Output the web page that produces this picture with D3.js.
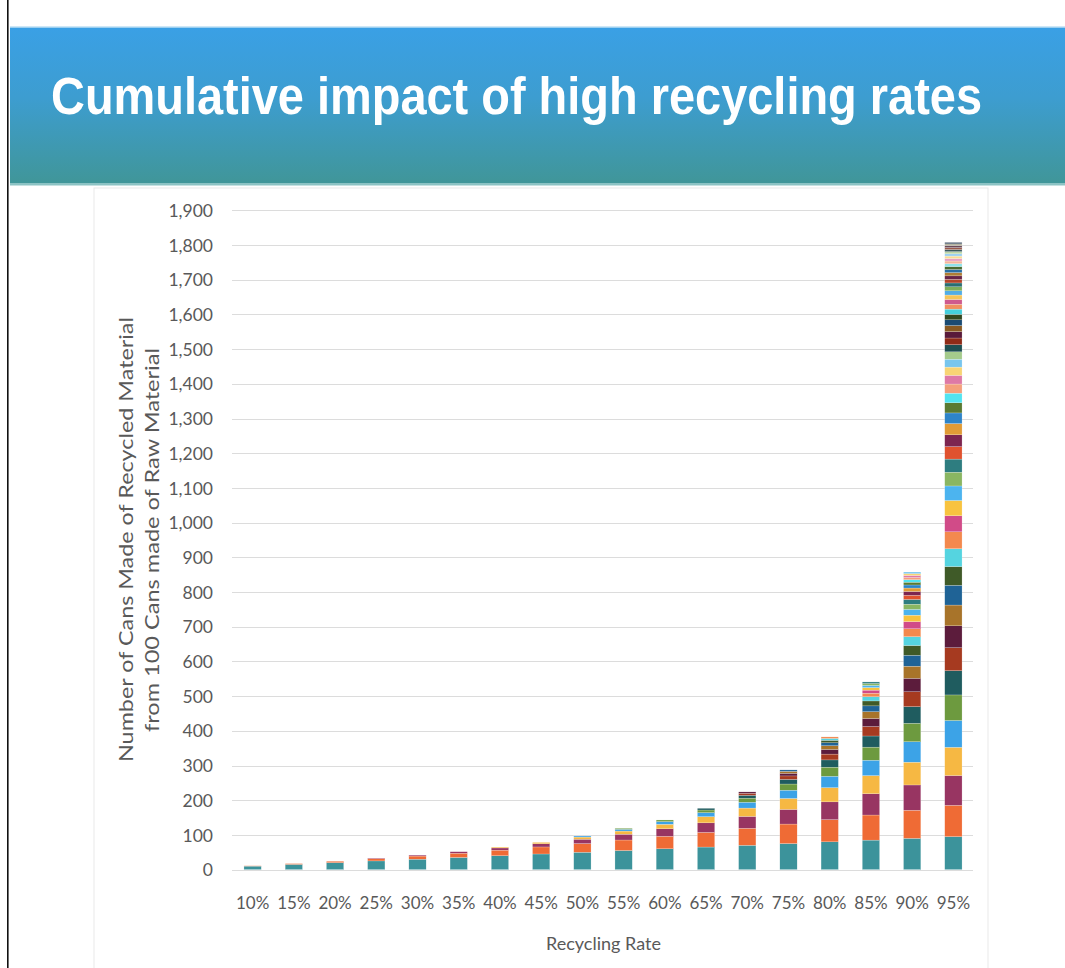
<!DOCTYPE html>
<html><head><meta charset="utf-8">
<script src="https://cdn.jsdelivr.net/npm/d3@7"></script>
<style>html,body{margin:0;padding:0;background:#fff;overflow:hidden}svg{display:block}</style>
</head><body>
<svg id="c" width="1065" height="968"></svg>
<script>
// ---------- data (cans made from recycled material, per generation) ----------
const categories = ["10%","15%","20%","25%","30%","35%","40%","45%","50%","55%","60%","65%","70%","75%","80%","85%","90%","95%"];
const g10 = [10, 1];
const g15 = [15, 2.25];
const g20 = [20, 4];
const g25 = [25, 6.25, 1.56];
const g30 = [30, 9, 2.7];
const g35 = [35, 12.25, 4.29];
const g40 = [40, 16, 6.4, 2.56];
const g45 = [45, 20.25, 9.11, 4.1];
const g50 = [50, 25, 12.5, 6.25, 3.13];
const g55 = [55, 30.25, 16.64, 9.15, 5.03, 2.77];
const g60 = [60, 36, 21.6, 12.96, 7.78, 4.67];
const g65 = [65, 42.25, 27.46, 17.85, 11.6, 7.54, 4.9];
const g70 = [70, 49, 34.3, 24.01, 16.81, 11.76, 8.24, 5.76, 4.04];
const g75 = [75, 56.25, 42.19, 31.64, 23.73, 17.8, 13.35, 10.01, 7.51, 5.63, 4.22];
const g80 = [80, 64, 51.2, 40.96, 32.77, 26.21, 20.97, 16.78, 13.42, 10.74, 8.59, 6.87, 5.5, 4.4];
const g85 = [85, 72.25, 61.41, 52.2, 44.37, 37.71, 32.06, 27.25, 23.16, 19.69, 16.73, 14.22, 12.09, 10.28, 8.74, 7.43, 6.31, 5.37, 4.56];
const g90 = [90, 81, 72.9, 65.61, 59.05, 53.14, 47.83, 43.05, 38.74, 34.87, 31.38, 28.24, 25.42, 22.88, 20.59, 18.53, 16.68, 15.01, 13.51, 12.16, 10.94, 9.85, 8.86, 7.98, 7.18, 6.46, 5.81, 5.23, 4.71];
const g95 = [95, 90.25, 85.74, 81.45, 77.38, 73.51, 69.83, 66.34, 63.02, 59.87, 56.88, 54.04, 51.33, 48.77, 46.33, 44.01, 41.81, 39.72, 37.74, 35.85, 34.06, 32.35, 30.74, 29.2, 27.74, 26.35, 25.03, 23.78, 22.59, 21.46, 20.39, 19.37, 18.4, 17.48, 16.61, 15.78, 14.99, 14.24, 13.53, 12.85, 12.21, 11.6, 11.02, 10.47, 9.94, 9.45, 8.97, 8.53, 8.1, 7.69, 7.31, 6.94, 6.6, 6.27, 5.95, 5.66, 5.37, 5.1, 4.85];
const generationsByRate = [g10,g15,g20,g25,g30,g35,g40,g45,g50,g55,g60,g65,g70,g75,g80,g85,g90,g95];
const yTicks = [0,100,200,300,400,500,600,700,800,900,1000,1100,1200,1300,1400,1500,1600,1700,1800,1900];
const titleText = "Cumulative impact of high recycling rates";
const yTitleLines = ["Number of Cans Made of Recycled Material", "from 100 Cans made of Raw Material"];
const xTitleText = "Recycling Rate";

// ---------- styles ----------
const palette = [
"#3c939b","#ef6b35","#983562","#f6b843","#3ca3e7","#6d9a3f",
"#1f5c5f","#a63a20","#5c1c3c","#a8742a","#1f6396","#3f5a28",
"#55d4e0","#f3894e","#d14b88","#f8c33f","#4cb4ef","#8ab662",
"#2e7d80","#e0522e","#7d2550","#e19b36","#2e84c8","#5a7a32",
"#52e4f0","#f4a07c","#de79a6","#f8d474","#78c6ee","#a5cb8c",
"#1e4f52","#8f2b17","#591a3a","#8a5a22","#1b4b73","#34461f",
"#45cfdc","#f09060","#cf5a8e","#f5c55a","#52ade6","#7fae5a",
"#2a6e72","#b5452a","#6a2447","#b07d35","#2a6fa5","#4a6b30",
"#8ee3ea","#f5b79a","#e8a0c2","#f9dc93","#9dd2f2","#bbd6a5",
"#3b5c5e","#9a5a4a","#6b4a5a","#a9a690","#5a6a7a","#8a9a7a"
];
const textGray = "#595959";
const axisFont = "Lato, 'Open Sans', sans-serif";

const svg = d3.select("#c");
const defs = svg.append("defs");
const grad = defs.append("linearGradient").attr("id","hdr").attr("x1",0).attr("y1",0).attr("x2",0).attr("y2",1);
grad.append("stop").attr("offset","0%").attr("stop-color","#3aa0e5");
grad.append("stop").attr("offset","45%").attr("stop-color","#3d9dd0");
grad.append("stop").attr("offset","100%").attr("stop-color","#409699");

// page frame
svg.append("rect").attr("x",0).attr("y",0).attr("width",1065).attr("height",968).attr("fill","#fff");
svg.append("rect").attr("x",94).attr("y",188).attr("width",894).attr("height",800)
  .attr("fill","#fff").attr("stroke","#e9e9e9").attr("stroke-width",1);

// header band
svg.append("rect").attr("x",10).attr("y",26.5).attr("width",1055).attr("height",2).attr("fill","#9ccff0");
svg.append("rect").attr("x",10).attr("y",28).attr("width",1055).attr("height",155).attr("fill","url(#hdr)");
svg.append("rect").attr("x",10).attr("y",183).attr("width",1055).attr("height",2.5).attr("fill","#8cc3c4");
svg.append("text").attr("x",51).attr("y",114).text(titleText)
  .attr("font-family","'Liberation Sans', Arial, sans-serif").attr("font-weight","bold")
  .attr("font-size",51).attr("fill","#fff")
  .attr("textLength",931).attr("lengthAdjust","spacingAndGlyphs");

// left black line
svg.append("rect").attr("x",7).attr("y",0).attr("width",1.6).attr("height",968).attr("fill","#111");

// ---------- scales ----------
const x = d3.scaleBand().domain(categories).range([232, 974]).paddingInner(0.58).paddingOuter(0.29);
const y = d3.scaleLinear().domain([0,1900]).range([869.6, 210.3]);

// gridlines
svg.append("g").selectAll("line").data(yTicks).join("line")
  .attr("x1",232).attr("x2",973)
  .attr("y1",d=>Math.round(y(d))+0.5).attr("y2",d=>Math.round(y(d))+0.5)
  .attr("stroke","#dcdcdc").attr("stroke-width",1);

// y axis (labels only)
const yAxis = d3.axisLeft(y).tickValues(yTicks).tickFormat(d3.format(",")).tickSize(0).tickPadding(0);
const gy = svg.append("g").attr("transform","translate(213,0)").call(yAxis);
gy.select(".domain").remove();
gy.selectAll("text").attr("font-family",axisFont).attr("font-size",17.5).attr("fill",textGray).attr("dy","0.35em");

// x axis (labels only)
const xAxis = d3.axisBottom(x).tickSize(0).tickPadding(0);
const gx = svg.append("g").attr("transform","translate(0,909)").call(xAxis);
gx.select(".domain").remove();
gx.selectAll("text").attr("font-family",axisFont).attr("font-size",17).attr("fill",textGray).attr("dy",0);

// ---------- stacked bars ----------
const maxGen = d3.max(generationsByRate, a => a.length);
const keys = d3.range(maxGen);
const table = categories.map((c,i) => {
  const row = {cat:c};
  keys.forEach(k => row[k] = generationsByRate[i][k] || 0);
  return row;
});
const stacked = d3.stack().keys(keys)(table);
const layers = svg.append("g").selectAll("g").data(stacked).join("g")
  .attr("fill", d => palette[d.key % palette.length]);
layers.selectAll("rect").data(d => d.filter(p => p[1] - p[0] > 0)).join("rect")
  .attr("x", p => x(p.data.cat))
  .attr("width", x.bandwidth())
  .attr("y", p => y(p[1]))
  .attr("height", p => y(p[0]) - y(p[1]))
  .attr("stroke","#ffffff").attr("stroke-width",0.35).attr("stroke-opacity",0.6);

// ---------- axis titles ----------
svg.append("text").attr("x",603.5).attr("y",950).attr("text-anchor","middle")
  .attr("font-family",axisFont).attr("font-size",18).attr("fill",textGray).text(xTitleText);
svg.append("text").attr("transform","translate(132.5,539.5) rotate(-90)")
  .attr("text-anchor","middle").attr("font-family",axisFont).attr("font-size",20)
  .attr("fill",textGray).attr("textLength",445).attr("lengthAdjust","spacingAndGlyphs").text(yTitleLines[0]);
svg.append("text").attr("transform","translate(159,540) rotate(-90)")
  .attr("text-anchor","middle").attr("font-family",axisFont).attr("font-size",20)
  .attr("fill",textGray).attr("textLength",384).attr("lengthAdjust","spacingAndGlyphs").text(yTitleLines[1]);
</script>
</body></html>
